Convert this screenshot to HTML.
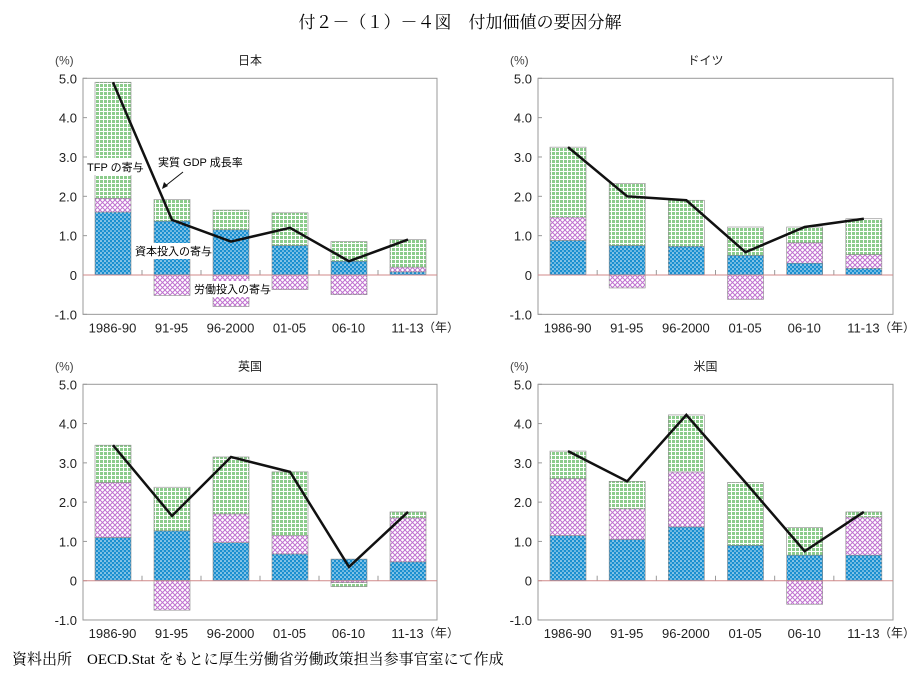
<!DOCTYPE html>
<html><head><meta charset="utf-8">
<style>
body{margin:0;background:#fff;overflow:hidden;}
svg{display:block;font-family:"Liberation Sans","Noto Sans CJK JP",sans-serif;}
.ser{font-family:"Liberation Serif","Noto Serif CJK SC",serif;}
</style></head>
<body>
<svg id="s" width="921" height="679" viewBox="0 0 921 679" xmlns="http://www.w3.org/2000/svg">
<defs>
<pattern id="pg" width="4" height="4" patternUnits="userSpaceOnUse"><rect width="4" height="4" fill="#fff"/><rect width="3" height="3" fill="#8ccc8c"/></pattern>
<pattern id="pb" width="4" height="4" patternUnits="userSpaceOnUse"><rect width="4" height="4" fill="#1a8fd0"/><circle cx="1" cy="1" r="0.8" fill="#fff"/><circle cx="3" cy="3" r="0.8" fill="#cfe9f7"/></pattern>
<pattern id="pp" width="5" height="5" patternUnits="userSpaceOnUse"><rect width="5" height="5" fill="#fff"/><path d="M0,0L5,5M5,0L0,5" stroke="#c070d0" stroke-width="1"/></pattern>
</defs>
<text x="460" y="28" text-anchor="middle" font-size="17" class="ser">付２－（１）－４図　付加価値の要因分解</text>
<text x="12" y="664" font-size="15" class="ser">資料出所　OECD.Stat をもとに厚生労働省労働政策担当参事官室にて作成</text>
</svg>
<script>
const s=document.getElementById('s');const NS='http://www.w3.org/2000/svg';
function el(t,a,txt){const e=document.createElementNS(NS,t);for(const k in a)e.setAttribute(k,a[k]);if(txt!=null)e.textContent=txt;s.appendChild(e);return e;}
const cats=['1986-90','91-95','96-2000','01-05','06-10','11-13'];
const panels=[
 {t:'日本',x0:83,x1:437,y5:78.3,y0:275,d:[[1.6,0.35,2.95,4.9],[1.37,-0.52,0.55,1.4],[1.15,-0.8,0.5,0.85],[0.75,-0.37,0.83,1.2],[0.35,-0.5,0.5,0.35],[0.08,0.12,0.7,0.9]]},
 {t:'ドイツ',x0:538,x1:893,y5:78.3,y0:275,d:[[0.88,0.59,1.78,3.25],[0.75,-0.33,1.58,2.0],[0.73,0,1.17,1.9],[0.5,-0.62,0.72,0.58],[0.3,0.52,0.4,1.22],[0.17,0.35,0.91,1.43]]},
 {t:'英国',x0:83,x1:437,y5:384.3,y0:580.7,d:[[1.1,1.4,0.95,3.45],[1.27,-0.75,1.11,1.65],[0.97,0.73,1.45,3.15],[0.68,0.47,1.62,2.77],[0.55,-0.05,-0.1,0.35],[0.48,1.12,0.15,1.75]]},
 {t:'米国',x0:538,x1:893,y5:384.3,y0:580.7,d:[[1.15,1.45,0.7,3.3],[1.05,0.78,0.7,2.53],[1.37,1.4,1.45,4.22],[0.9,0,1.6,2.5],[0.65,-0.6,0.7,0.75],[0.65,0.97,0.13,1.75]]}
];
panels.forEach(p=>{
 const u=(p.y0-p.y5)/5, Y=v=>p.y0-v*u, cw=(p.x1-p.x0)/6;
 el('rect',{x:p.x0,y:p.y5,width:p.x1-p.x0,height:6*u,fill:'none',stroke:'#999','stroke-width':1});
 for(let v=-1;v<=5;v++){
  el('line',{x1:p.x0,x2:p.x0+4,y1:Y(v),y2:Y(v),stroke:'#999'});
  el('text',{x:p.x0-6,y:Y(v)+5,'text-anchor':'end','font-size':13,fill:'#222'},v==0?'0':v.toFixed(1));
 }
 el('text',{x:p.x0-28,y:p.y5-14,'font-size':12,fill:'#444'},'(%)');
 el('text',{x:(p.x0+p.x1)/2-10,y:p.y5-14,'font-size':12,'text-anchor':'middle',fill:'#222'},p.t);
 const pts=[];
 p.d.forEach((d,i)=>{
  const bx=p.x0+cw*i+12,bw=36;
  let pos=0,neg=0;
  [['pb',d[0]],['pp',d[1]],['pg',d[2]]].forEach(([f,v])=>{
   if(v==0)return;
   let a,b;
   if(v>0){a=pos;b=pos+v;pos=b;}else{a=neg;b=neg+v;neg=b;}
   el('rect',{x:bx,y:Y(Math.max(a,b)),width:bw,height:Math.abs(v)*u,fill:'url(#'+f+')',stroke:'#888','stroke-width':0.6});
  });
  pts.push((bx+bw/2)+','+Y(d[3]));
  el('text',{x:p.x0+cw*i+cw/2,y:p.y0+u+18,'text-anchor':'middle','font-size':13,fill:'#222'},cats[i]);
  if(i>0)el('line',{x1:p.x0+cw*i,x2:p.x0+cw*i,y1:p.y0-5,y2:p.y0,stroke:'#999'});
 });
 el('line',{x1:p.x0,x2:p.x1,y1:p.y0,y2:p.y0,stroke:'#d08a8a','stroke-width':1});
 el('text',{x:p.x1-14,y:p.y0+u+17,'font-size':12,fill:'#222'},'（年）');
 el('polyline',{points:pts.join(' '),fill:'none',stroke:'#111','stroke-width':2.5});
});
el('rect',{x:86,y:158,width:54,height:17,fill:'#fff'});
el('text',{x:87,y:171,'font-size':11},'TFP の寄与');
el('text',{x:158,y:166,'font-size':11},'実質 GDP 成長率');
el('line',{x1:183,y1:172,x2:164,y2:187,stroke:'#111','stroke-width':1});
el('path',{d:'M162,189 L164,182 L168,186 Z',fill:'#111'});
el('rect',{x:134,y:243,width:76,height:16,fill:'#fff'});
el('text',{x:135,y:255,'font-size':11},'資本投入の寄与');
el('rect',{x:193,y:281,width:76,height:16,fill:'#fff'});
el('text',{x:194,y:293,'font-size':11},'労働投入の寄与');
</script>
</body></html>
